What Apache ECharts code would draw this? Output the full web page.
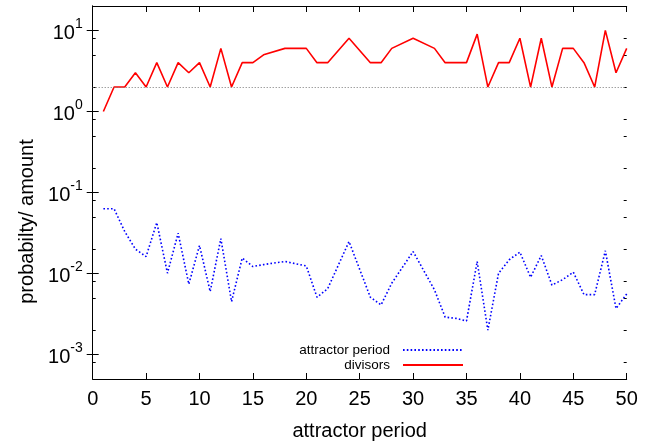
<!DOCTYPE html>
<html>
<head>
<meta charset="utf-8">
<script src="https://cdn.jsdelivr.net/npm/echarts@6/dist/echarts.min.js"></script>
<style>
html,body{margin:0;padding:0;background:#fff;}
#chart{width:655px;height:441px;}
</style>
</head>
<body>
<div id="chart"></div>
<script>
// ---- data ----
const periods = [1,2,3,4,5,6,7,8,9,10,11,12,13,14,15,16,18,20,21,22,24,26,27,28,30,32,33,34,35,36,37,38,39,40,41,42,43,44,45,46,47,48,49,50];
const attractorProb = [0.063,0.063,0.033,0.020,0.0162,0.0426,0.0101,0.0315,0.0074,0.0222,0.0060,0.0270,0.0045,0.0155,0.0122,0.0129,0.0141,0.0124,0.0051,0.0065,0.0248,0.0051,0.0041,0.0076,0.0187,0.0063,0.0029,0.0028,0.0026,0.0141,0.0020,0.0101,0.0148,0.0184,0.0090,0.0167,0.0072,0.0084,0.0104,0.0055,0.0055,0.0191,0.0037,0.0056];
const divisors = [1,2,2,3,2,4,2,4,3,4,2,6,2,4,4,5,6,6,4,4,8,4,4,6,8,6,4,4,4,9,2,4,4,8,2,8,2,6,6,4,2,10,3,6];
const referenceLevel = 2;
const xTicks = {min: 0, max: 50, step: 5};
const yMajorTicks = [0.001, 0.01, 0.1, 1, 10];
const yMinorTicks = [8e-4, 2e-3, 5e-3, 8e-3, 2e-2, 5e-2, 8e-2, 0.2, 0.5, 0.8, 2, 5, 8];
const yRange = {min: 5e-4, max: 20};
const seriesNames = ['attractor period', 'divisors'];
const axisNames = {x: 'attractor period', y: 'probabilty/ amount'};

// ---- chart ----
const FONT = '"Liberation Sans", Arial, Helvetica, sans-serif';
const chart = echarts.init(document.getElementById('chart'), null, {renderer: 'canvas'});

function zip(xs, ys) { return xs.map((x, i) => [x, ys[i]]); }

const axisLine = {show: true, lineStyle: {color: '#000', width: 1}};
function yAx(pos, ticks, len, labels, line, name) {
  const a = {
    type: 'log', logBase: 10, min: yRange.min, max: yRange.max, position: pos, gridIndex: 0,
    axisLine: line ? axisLine : {show: false},
    axisTick: {show: true, inside: true, length: len, customValues: ticks, lineStyle: {color: '#000', width: 1}},
    axisLabel: {show: false},
    splitLine: {show: false}, minorTick: {show: false}
  };
  if (labels) {
    a.axisLabel = {
      show: true, customValues: yMajorTicks, margin: 10, color: '#000', fontFamily: FONT,
      formatter: v => '{b|10}{s|' + Math.round(Math.log10(v)) + '}',
      rich: {
        b: {fontSize: 20, fontFamily: FONT, color: '#000', verticalAlign: 'bottom', lineHeight: 26, padding: [6,0,0,0]},
        s: {fontSize: 14, fontFamily: FONT, color: '#000', verticalAlign: 'top', lineHeight: 26, padding: [0,0,10,0]}
      }
    };
  }
  if (name) {
    a.name = name; a.nameLocation = 'middle'; a.nameGap = 55; a.nameRotate = 90;
    a.nameTextStyle = {fontSize: 20, fontFamily: FONT, color: '#000', padding: [0, 58, 0, 0]};
  }
  return a;
}
function xAx(pos, labels, name) {
  const a = {
    type: 'value', min: xTicks.min, max: xTicks.max, interval: xTicks.step, position: pos, gridIndex: 0,
    axisLine: axisLine,
    axisTick: {show: true, inside: true, length: 6, lineStyle: {color: '#000', width: 1}},
    axisLabel: labels ? {show: true, fontSize: 20, fontFamily: FONT, color: '#000', margin: 10} : {show: false},
    splitLine: {show: false}
  };
  if (name) {
    a.name = name; a.nameLocation = 'middle'; a.nameGap = 42;
    a.nameTextStyle = {fontSize: 20, fontFamily: FONT, color: '#000'};
  }
  return a;
}

chart.setOption({
  animation: false,
  backgroundColor: '#fff',
  grid: {left: 92.7, right: 28.3, top: 6, bottom: 62, containLabel: false, outerBoundsMode: 'none'},
  xAxis: [xAx('bottom', true, axisNames.x), xAx('top', false, null)],
  yAxis: [
    yAx('left', yMajorTicks, 6, true, true, axisNames.y),
    yAx('right', yMajorTicks, 6, false, true, null),
    yAx('left', yMinorTicks, 3, false, false, null),
    yAx('right', yMinorTicks, 3, false, false, null)
  ],
  legend: {
    orient: 'vertical', align: 'right', right: 186, top: 338,
    itemWidth: 60, itemHeight: 10, itemGap: 1,
    itemStyle: {opacity: 0},
    textStyle: {fontSize: 13.5, fontFamily: FONT, color: '#000', padding: [0, 8, 0, 0]},
    data: seriesNames
  },
  series: [
    {
      name: seriesNames[0], type: 'line', xAxisIndex: 0, yAxisIndex: 0,
      data: zip(periods, attractorProb), symbol: 'none',
      lineStyle: {color: '#0000ff', width: 1.6, type: [1.6, 2.2]},
      itemStyle: {color: '#0000ff'}
    },
    {
      name: seriesNames[1], type: 'line', xAxisIndex: 0, yAxisIndex: 0,
      data: zip(periods, divisors), symbol: 'none',
      lineStyle: {color: '#ff0000', width: 1.6},
      itemStyle: {color: '#ff0000'},
      markLine: {
        silent: true, symbol: 'none', label: {show: false},
        lineStyle: {color: '#777', width: 1, type: [1, 2]},
        data: [{yAxis: referenceLevel}]
      }
    }
  ]
});
</script>
</body>
</html>
